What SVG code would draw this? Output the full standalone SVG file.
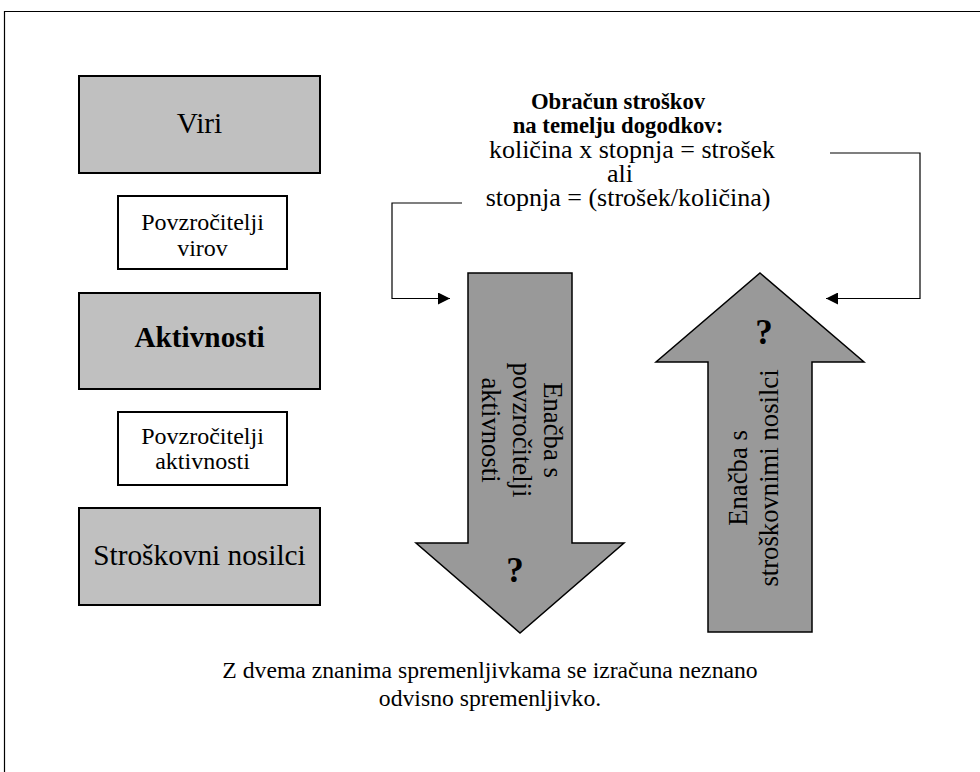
<svg xmlns="http://www.w3.org/2000/svg" width="980" height="772" viewBox="0 0 980 772" font-family="'Liberation Serif', 'Times New Roman', 'DejaVu Serif', serif">
  <style>
    text { font-family: 'Liberation Serif', 'Times New Roman', 'DejaVu Serif', serif; fill: #000; }
    .big { font-size: 29.3px; text-anchor: middle; }
    .small { font-size: 24px; text-anchor: middle; }
    .head { font-size: 22.7px; font-weight: bold; text-anchor: middle; }
    .mid { font-size: 26px; text-anchor: middle; }
    .note { font-size: 23.7px; text-anchor: middle; }
    .rot { font-size: 26.7px; text-anchor: middle; }
    .q { font-size: 35px; font-weight: bold; text-anchor: middle; }
    .b { font-weight: bold; }
    .gray { fill: #c0c0c0; stroke: #000; stroke-width: 2; }
    .white { fill: #fff; stroke: #000; stroke-width: 2; }
    .arrow { fill: #999999; stroke: #000; stroke-width: 1.5; stroke-linejoin: miter; }
    .link { fill: none; stroke: #000; stroke-width: 1.2; }
  </style>
  <defs>
    <marker id="tip" viewBox="0 0 10 10" refX="10" refY="5" markerWidth="18" markerHeight="12" markerUnits="userSpaceOnUse" orient="auto">
      <path d="M0,0 L10,5 L0,10 Z" fill="#000"/>
    </marker>
  </defs>
  <rect width="980" height="772" fill="#fff"/>
  <!-- page frame (top and left edges) -->
  <path d="M4.5,772 V11.5 H980" fill="none" stroke="#000" stroke-width="1.2"/>

  <g id="viri">
    <rect class="gray" x="79" y="76" width="241" height="97"/>
    <text class="big" x="199.5" y="133">Viri</text>
  </g>
  <g id="povzrocitelji-virov">
    <rect class="white" x="118" y="196" width="169" height="73"/>
    <text class="small" x="202.5" y="230">Povzročitelji</text>
    <text class="small" x="202.5" y="256">virov</text>
  </g>
  <g id="aktivnosti">
    <rect class="gray" x="79" y="293" width="241" height="96"/>
    <text class="big b" x="199.5" y="347">Aktivnosti</text>
  </g>
  <g id="povzrocitelji-aktivnosti">
    <rect class="white" x="118" y="412" width="169" height="73"/>
    <text class="small" x="202.5" y="444">Povzročitelji</text>
    <text class="small" x="202.5" y="469">aktivnosti</text>
  </g>
  <g id="stroskovni-nosilci">
    <rect class="gray" x="79" y="508" width="241" height="97"/>
    <text class="big" x="199.5" y="565">Stroškovni nosilci</text>
  </g>

  <g id="formula">
    <text class="head" x="618" y="109">Obračun stroškov</text>
    <text class="head" x="618" y="133">na temelju dogodkov:</text>
    <text class="mid" x="632" y="158">količina x stopnja = strošek</text>
    <text class="mid" x="620" y="182">ali</text>
    <text class="mid" x="628" y="206">stopnja = (strošek/količina)</text>
  </g>

  <g id="enacba-povzrocitelji">
    <path class="arrow" d="M468,273 H572 V543 H624 L520,633 L416,543 H468 Z"/>
    <text class="rot" transform="translate(544,430) rotate(90)">Enačba s</text>
    <text class="rot" transform="translate(513,430) rotate(90)">povzročitelji</text>
    <text class="rot" transform="translate(482,430) rotate(90)">aktivnosti</text>
    <text class="q" x="515" y="582">?</text>
  </g>

  <g id="enacba-nosilci">
    <path class="arrow" d="M760,273 L864,362 H812 V632 H708 V362 H656 Z"/>
    <text class="rot" transform="translate(747,478) rotate(-90)">Enačba s</text>
    <text class="rot" transform="translate(778,478) rotate(-90)">stroškovnimi nosilci</text>
    <text class="q" x="764" y="344">?</text>
  </g>

  <g id="connectors">
    <path class="link" d="M462,203 H392 V298.5 H450" marker-end="url(#tip)"/>
    <path class="link" d="M830,153 H920 V298.5 H826" marker-end="url(#tip)"/>
  </g>

  <g id="note">
    <text class="note" x="490" y="678">Z dvema znanima spremenljivkama se izračuna neznano</text>
    <text class="note" x="490" y="706">odvisno spremenljivko.</text>
  </g>
</svg>
